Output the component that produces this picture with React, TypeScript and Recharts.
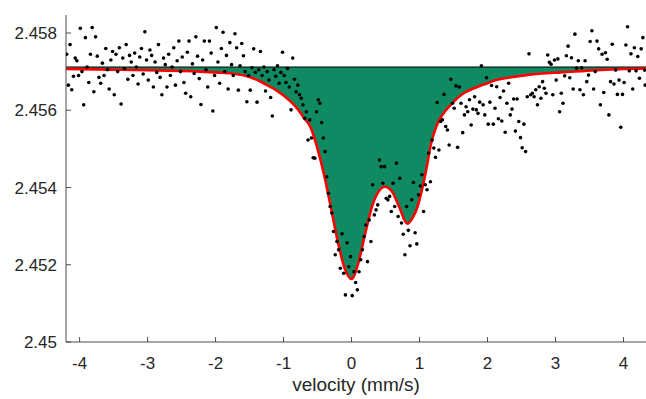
import { Area, ComposedChart, Line, ReferenceLine, Scatter, XAxis, YAxis } from "recharts";

// measured spectrum (velocity in mm/s, transmission)
const velocity = [
	-4.19, -4.165, -4.14, -4.115, -4.09, -4.065, -4.04, -4.015, -3.99, -3.965, -3.94, -3.915, -3.89, -3.865, -3.84, -3.815, -3.79, -3.765, -3.74, -3.715,
	-3.69, -3.665, -3.64, -3.615, -3.59, -3.565, -3.54, -3.515, -3.49, -3.465, -3.44, -3.415, -3.39, -3.365, -3.34, -3.315, -3.29, -3.265, -3.24, -3.215,
	-3.19, -3.165, -3.14, -3.115, -3.09, -3.065, -3.04, -3.015, -2.99, -2.965, -2.94, -2.915, -2.89, -2.865, -2.84, -2.815, -2.79, -2.765, -2.74, -2.715,
	-2.69, -2.665, -2.64, -2.615, -2.59, -2.565, -2.54, -2.515, -2.49, -2.465, -2.44, -2.415, -2.39, -2.365, -2.34, -2.315, -2.29, -2.265, -2.24, -2.215,
	-2.19, -2.165, -2.14, -2.115, -2.09, -2.065, -2.04, -2.015, -1.99, -1.965, -1.94, -1.915, -1.89, -1.865, -1.84, -1.815, -1.79, -1.765, -1.74, -1.715,
	-1.69, -1.665, -1.64, -1.615, -1.59, -1.565, -1.54, -1.515, -1.49, -1.465, -1.44, -1.415, -1.39, -1.365, -1.34, -1.315, -1.29, -1.265, -1.24, -1.215,
	-1.19, -1.165, -1.14, -1.115, -1.09, -1.065, -1.04, -1.015, -0.99, -0.965, -0.94, -0.915, -0.89, -0.865, -0.84, -0.815, -0.79, -0.765, -0.74, -0.715,
	-0.69, -0.665, -0.64, -0.615, -0.59, -0.565, -0.54, -0.515, -0.49, -0.465, -0.44, -0.415, -0.39, -0.365, -0.34, -0.315, -0.29, -0.265, -0.24, -0.215,
	-0.19, -0.165, -0.14, -0.115, -0.09, -0.065, -0.04, -0.015, 0.01, 0.035, 0.06, 0.085, 0.11, 0.135, 0.16, 0.185, 0.21, 0.235, 0.26, 0.285,
	0.31, 0.335, 0.36, 0.385, 0.41, 0.435, 0.46, 0.485, 0.51, 0.535, 0.56, 0.585, 0.61, 0.635, 0.66, 0.685, 0.71, 0.735, 0.76, 0.785,
	0.81, 0.835, 0.86, 0.885, 0.91, 0.935, 0.96, 0.985, 1.01, 1.035, 1.06, 1.085, 1.11, 1.135, 1.16, 1.185, 1.21, 1.235, 1.26, 1.285,
	1.31, 1.335, 1.36, 1.385, 1.41, 1.435, 1.46, 1.485, 1.51, 1.535, 1.56, 1.585, 1.61, 1.635, 1.66, 1.685, 1.71, 1.735, 1.76, 1.785,
	1.81, 1.835, 1.86, 1.885, 1.91, 1.935, 1.96, 1.985, 2.01, 2.035, 2.06, 2.085, 2.11, 2.135, 2.16, 2.185, 2.21, 2.235, 2.26, 2.285,
	2.31, 2.335, 2.36, 2.385, 2.41, 2.435, 2.46, 2.485, 2.51, 2.535, 2.56, 2.585, 2.61, 2.635, 2.66, 2.685, 2.71, 2.735, 2.76, 2.785,
	2.81, 2.835, 2.86, 2.885, 2.91, 2.935, 2.96, 2.985, 3.01, 3.035, 3.06, 3.085, 3.11, 3.135, 3.16, 3.185, 3.21, 3.235, 3.26, 3.285,
	3.31, 3.335, 3.36, 3.385, 3.41, 3.435, 3.46, 3.485, 3.51, 3.535, 3.56, 3.585, 3.61, 3.635, 3.66, 3.685, 3.71, 3.735, 3.76, 3.785,
	3.81, 3.835, 3.86, 3.885, 3.91, 3.935, 3.96, 3.985, 4.01, 4.035, 4.06, 4.085, 4.11, 4.135, 4.16, 4.185, 4.21, 4.235, 4.26, 4.285,
	4.31, 4.32,
];

const transmission = [
	2.45745, 2.45665, 2.4577, 2.45653, 2.45688, 2.45735, 2.45728, 2.4569, 2.45812, 2.457, 2.45614, 2.45788, 2.45712, 2.45672, 2.45745, 2.45814, 2.45648, 2.4579, 2.4574, 2.45685,
	2.4567, 2.45722, 2.4569, 2.4576, 2.45705, 2.45655, 2.4573, 2.45752, 2.4564, 2.45745, 2.457, 2.45762, 2.45616, 2.45735, 2.45708, 2.4577, 2.4568, 2.45742, 2.45725, 2.4569,
	2.45748, 2.45712, 2.45668, 2.45738, 2.4576, 2.45694, 2.45803, 2.4573, 2.45678, 2.45756, 2.45742, 2.4566, 2.45725, 2.45698, 2.4577, 2.45685, 2.4564, 2.45735, 2.45718, 2.4566,
	2.45745, 2.4569, 2.45712, 2.45762, 2.45665, 2.45728, 2.45779, 2.457, 2.45738, 2.45672, 2.45644, 2.4575, 2.45779, 2.45635, 2.4572, 2.45695, 2.4579, 2.4574, 2.45682, 2.45615,
	2.4573, 2.45779, 2.45705, 2.4566, 2.45779, 2.45748, 2.45598, 2.4569, 2.45814, 2.45725, 2.4567, 2.4576, 2.45802, 2.457, 2.45742, 2.45655, 2.45775, 2.45718, 2.4569, 2.45798,
	2.45762, 2.45652, 2.45715, 2.45773, 2.45741, 2.457, 2.45622, 2.4569, 2.45652, 2.4571, 2.45759, 2.45698, 2.45621, 2.45705, 2.45752, 2.4569, 2.45712, 2.4565, 2.457, 2.45678,
	2.45633, 2.45585, 2.45705, 2.45688, 2.45715, 2.4567, 2.45698, 2.4575, 2.4569, 2.45672, 2.45708, 2.4566, 2.45601, 2.45735, 2.4568, 2.45648, 2.45665, 2.4564, 2.45631, 2.45614,
	2.45579, 2.45596, 2.45523, 2.45575, 2.45528, 2.45477, 2.45476, 2.45596, 2.45627, 2.45618, 2.45568, 2.45528, 2.45493, 2.45428, 2.45385, 2.45351, 2.45334, 2.45286, 2.45226, 2.4526,
	2.45239, 2.45191, 2.4528, 2.45178, 2.45122, 2.45257, 2.45195, 2.45221, 2.4512, 2.45182, 2.45154, 2.45135, 2.45182, 2.45213, 2.45239, 2.45273, 2.45303, 2.45208, 2.45316, 2.4526,
	2.45407, 2.45329, 2.45342, 2.45355, 2.45471, 2.45454, 2.45411, 2.45454, 2.45372, 2.45368, 2.45377, 2.45338, 2.45411, 2.45351, 2.45463, 2.45325, 2.45424, 2.45308, 2.45279, 2.45226,
	2.45351, 2.45289, 2.45249, 2.45368, 2.45413, 2.45283, 2.45254, 2.45381, 2.45404, 2.45433, 2.45338, 2.45407, 2.45394, 2.45489, 2.45415, 2.45523, 2.45502, 2.45478, 2.4562, 2.45497,
	2.45571, 2.45575, 2.45641, 2.45558, 2.45549, 2.4551, 2.4568, 2.45618, 2.45605, 2.45663, 2.45504, 2.4566, 2.45618, 2.45542, 2.45588, 2.45609, 2.45596, 2.45627, 2.45562, 2.45603,
	2.45635, 2.45601, 2.45592, 2.45621, 2.45715, 2.45614, 2.45588, 2.45684, 2.45564, 2.45621, 2.45664, 2.45564, 2.45605, 2.45661, 2.45578, 2.45633, 2.45572, 2.4565, 2.45543, 2.45618,
	2.4567, 2.45588, 2.45603, 2.45629, 2.45546, 2.45629, 2.45571, 2.45529, 2.45503, 2.45564, 2.45493, 2.45635, 2.45746, 2.4564, 2.45644, 2.45635, 2.45653, 2.45614, 2.45661, 2.45631,
	2.45674, 2.45657, 2.45644, 2.45743, 2.45724, 2.45719, 2.4564, 2.4573, 2.45678, 2.45733, 2.45596, 2.45644, 2.45618, 2.45689, 2.45741, 2.45766, 2.45684, 2.45736, 2.45655, 2.45797,
	2.45709, 2.45728, 2.45653, 2.4571, 2.4564, 2.45728, 2.45674, 2.45691, 2.45778, 2.45806, 2.45655, 2.457, 2.45779, 2.45759, 2.45614, 2.45745, 2.45646, 2.45749, 2.45732, 2.45588,
	2.45674, 2.45771, 2.45668, 2.45704, 2.45641, 2.45678, 2.45556, 2.45641, 2.45672, 2.45769, 2.45816, 2.45702, 2.45746, 2.45655, 2.45762, 2.45702, 2.45739, 2.45683, 2.45759, 2.45788,
	2.45704, 2.45665,
];

// fitted envelope
const fitVelocity = [
	-4.2, -3.5, -3.0, -2.5, -2.0, -1.7, -1.5, -1.35, -1.2, -1.1, -1.0, -0.9, -0.8, -0.7, -0.6, -0.5, -0.4, -0.3, -0.2, -0.1, 0, 0.1, 0.2, 0.3, 0.4,
	0.49, 0.6, 0.7, 0.82, 0.9, 0.97, 1.05, 1.1, 1.165, 1.23, 1.29, 1.38, 1.46, 1.55, 1.65, 1.75, 1.86, 2.0, 2.125, 2.3, 2.57, 2.8, 3.08, 3.6, 4.33,
];
const fitTransmission = [
	2.45707, 2.45705, 2.45704, 2.45702, 2.45698, 2.45694, 2.45686, 2.45675, 2.45661, 2.45651, 2.45638, 2.45623, 2.45605, 2.4558, 2.45555, 2.455, 2.4543, 2.45345, 2.45258, 2.4519, 2.45163, 2.45205, 2.4528, 2.4535, 2.4539,
	2.45402, 2.45388, 2.4535, 2.45306, 2.45322, 2.4535, 2.45405, 2.45447, 2.4551, 2.4555, 2.45575, 2.45598, 2.45614, 2.4563, 2.45644, 2.45653, 2.45661, 2.4567, 2.45678, 2.45684, 2.45691, 2.45695, 2.45698, 2.45704, 2.45708,
];
const baseline = 2.45712;

const xTicks = [-4, -3, -2, -1, 0, 1, 2, 3, 4];
const yTicks = [2.45, 2.452, 2.454, 2.456, 2.458];

const fitRows = fitVelocity.map((v, i) => ({ v, fit: fitTransmission[i], band: [fitTransmission[i], baseline] }));
const points = velocity.map((v, i) => ({ v, t: transmission[i] }));

const tickStyle = { fill: "#262626", fontFamily: "'Liberation Sans', Arial, sans-serif", fontSize: 17 };

function Dot(props: any) {
	return <circle cx={props.cx} cy={props.cy} fill="#000" r={1.8} />;
}

export default function App() {
	return (
		<div style={{ left: 0, position: "absolute", top: 0 }}>
			<ComposedChart data={fitRows} height={399} margin={{ bottom: 0, left: 0, right: 0, top: 15 }} width={646}>
				<XAxis
					allowDataOverflow
					axisLine={{ stroke: "#4d4d4d" }}
					dataKey="v"
					domain={[-4.2, 4.331]}
					height={57}
					label={{ fill: "#262626", fontFamily: "'Liberation Sans', Arial, sans-serif", fontSize: 19, offset: 8, position: "insideBottom", value: "velocity (mm/s)" }}
					tick={tickStyle}
					tickLine={{ stroke: "#4d4d4d" }}
					tickMargin={20}
					tickSize={-5}
					ticks={xTicks}
					type="number"
				/>
				<YAxis
					allowDataOverflow
					axisLine={{ stroke: "#4d4d4d" }}
					domain={[2.45, 2.458466]}
					tick={tickStyle}
					tickFormatter={(val: number) => String(Number(val.toFixed(3)))}
					tickLine={{ stroke: "#4d4d4d" }}
					tickMargin={14}
					tickSize={-5}
					ticks={yTicks}
					type="number"
					width={66}
				/>
				<Area dataKey="band" fill="#108a62" fillOpacity={1} isAnimationActive={false} stroke="none" type="monotone" />
				<ReferenceLine stroke="#000" strokeWidth={1.2} y={baseline} />
				<Scatter data={points} dataKey="t" isAnimationActive={false} shape={Dot} />
				<Line dataKey="fit" dot={false} isAnimationActive={false} stroke="#ff0000" strokeWidth={2.6} type="monotone" />
			</ComposedChart>
		</div>
	);
}
